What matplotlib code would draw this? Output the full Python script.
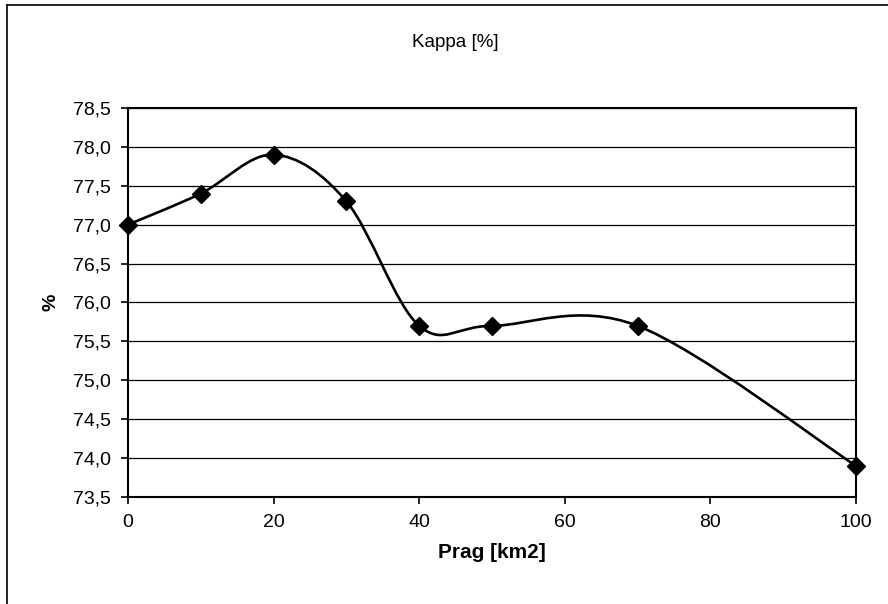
import numpy as np
import matplotlib
matplotlib.use('Agg')
import matplotlib.pyplot as plt
from matplotlib.path import Path
from matplotlib.patches import PathPatch
from matplotlib.lines import Line2D

plt.rcParams['font.family'] = ['Liberation Sans', 'DejaVu Sans']

# data
prag = [0, 10, 20, 30, 40, 50, 70, 100]
kappa = [77.0, 77.4, 77.9, 77.3, 75.7, 75.7, 75.7, 73.9]
yticks = np.arange(73.5, 78.51, 0.5)
xticks = [0, 20, 40, 60, 80, 100]

fig = plt.figure(figsize=(8.88, 6.04), dpi=100)
ax = fig.add_axes([0.1441, 0.1772, 0.8199, 0.6440])

# excel-like smoothed line (bezier through the points)
p = np.column_stack([prag, kappa]).astype(float)
ext = np.vstack([p[0], p, p[-1]])
verts = [tuple(p[0])]
codes = [Path.MOVETO]
for i in range(len(p) - 1):
    p0, p1, p2, p3 = ext[i], ext[i + 1], ext[i + 2], ext[i + 3]
    c1 = p1 + (p2 - p0) / 6
    c2 = p2 - (p3 - p1) / 6
    verts += [tuple(c1), tuple(c2), tuple(p2)]
    codes += [Path.CURVE4] * 3
ax.add_patch(PathPatch(Path(verts, codes), fill=False, edgecolor='black', lw=1.9, zorder=3))
ax.plot(prag, kappa, ls='none', marker='D', ms=9.5, color='black', zorder=4, clip_on=False)

ax.set_xlim(0, 100)
ax.set_ylim(73.5, 78.5)
ax.set_xticks(xticks)
ax.set_yticks(yticks)
ax.set_yticklabels([f'{v:.1f}'.replace('.', ',') for v in yticks])
ax.yaxis.grid(True, color='black', lw=0.9)
ax.set_axisbelow(True)
for s in ax.spines.values():
    s.set_linewidth(1.5)
ax.tick_params(direction='out', length=5, width=1.2, labelsize=14, pad=7)

ax.set_xlabel('Prag [km2]', fontsize=15, fontweight='bold', labelpad=9)
ax.set_ylabel('%', fontsize=14, fontweight='bold', labelpad=10)
fig.text(0.513, 0.930, 'Kappa [%]', ha='center', va='center', fontsize=13.5)

# chart border
fig.add_artist(Line2D([7 / 888, 1], [1 - 5 / 604, 1 - 5 / 604], color='black', lw=1.2))
fig.add_artist(Line2D([7 / 888, 7 / 888], [0, 1 - 5 / 604], color='black', lw=1.2))

fig.savefig('out.png', dpi=100)
